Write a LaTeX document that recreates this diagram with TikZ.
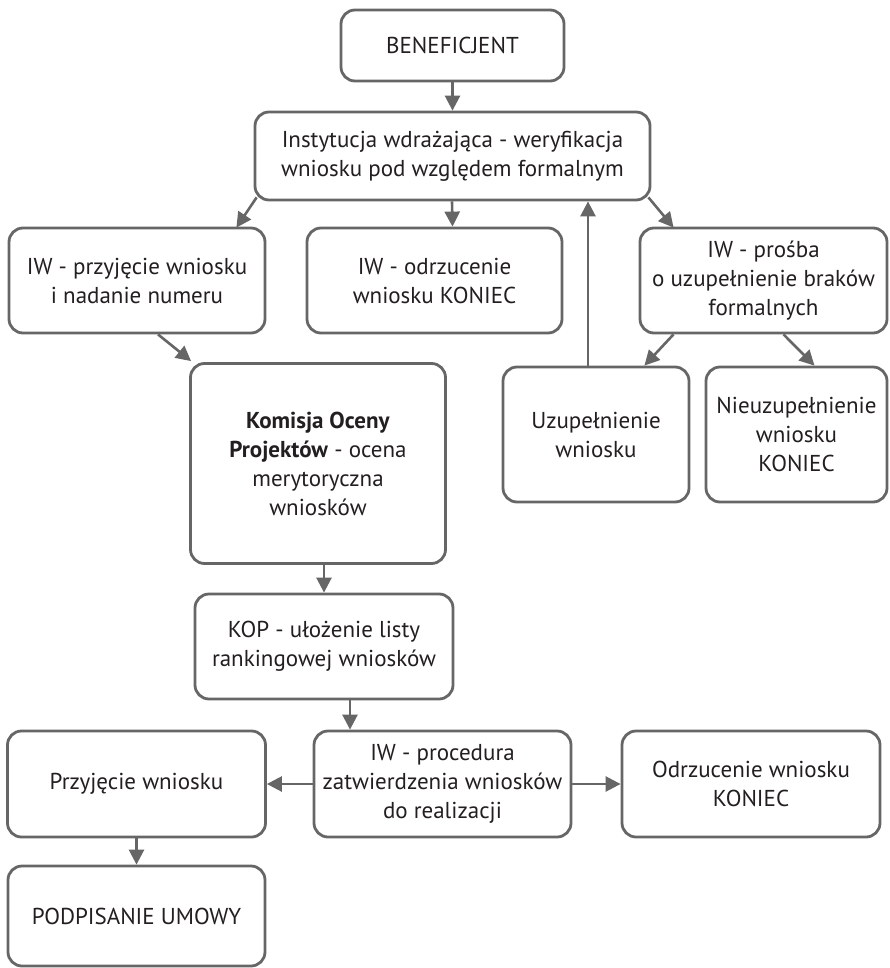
\documentclass[tikz,border=0pt]{standalone}
\usepackage{fontspec}
\setmainfont{PT Sans}
\usetikzlibrary{arrows.meta,calc}
\definecolor{ln}{HTML}{666666}
\definecolor{tx}{HTML}{231F20}
\tikzset{
  box/.style={draw=ln, line width=2.8pt, rounded corners=14pt, fill=white, inner sep=0pt,
    align=center, text=tx, font=\fontsize{23}{29}\selectfont},
  conn/.style={draw=ln, line width=2.6pt, -{Triangle[length=15pt,width=15pt]}},
}
\begin{document}
\begin{tikzpicture}[x=1pt,y=-1pt]
\useasboundingbox (0,0) rectangle (889,968);
\node[box, minimum width=223pt, minimum height=71pt] (ben) at (452.5,45.5) {BENEFICJENT};
\node[box, minimum width=395pt, minimum height=88pt] (inst) at (452.5,156) {Instytucja wdrażająca - weryfikacja\\wniosku pod względem formalnym};
\node[box, minimum width=256pt, minimum height=105pt] (przy) at (137,280.5) {IW - przyjęcie wniosku\\i nadanie numeru};
\node[box, minimum width=255pt, minimum height=105pt] (odrz) at (434.5,280.5) {IW - odrzucenie\\wniosku KONIEC};
\node[box, minimum width=247pt, minimum height=105pt] (pros) at (763.5,280.5) {IW - prośba\\o uzupełnienie braków\\formalnych};
\node[box, minimum width=186pt, minimum height=135pt] (uzup) at (596,434.5) {Uzupełnienie\\wniosku};
\node[box, minimum width=181pt, minimum height=135pt] (nieuz) at (796.5,434.5) {Nieuzupełnienie\\wniosku\\KONIEC};
\node[box, minimum width=255pt, minimum height=200pt] (kom) at (318,463.5) {\textbf{Komisja Oceny}\\\textbf{Projektów} - ocena\\merytoryczna\\wniosków};
\node[box, minimum width=258pt, minimum height=105pt] (kop) at (324,646.5) {KOP - ułożenie listy\\rankingowej wniosków};
\node[box, minimum width=257pt, minimum height=106pt] (proc) at (442.5,784) {IW - procedura\\zatwierdzenia wniosków\\do realizacji};
\node[box, minimum width=258pt, minimum height=106pt] (odrz2) at (751,784) {Odrzucenie wniosku\\KONIEC};
\node[box, minimum width=258pt, minimum height=106pt] (przyj2) at (136.5,784) {Przyjęcie wniosku};
\node[box, minimum width=257pt, minimum height=100pt] (podp) at (136.5,916) {PODPISANIE UMOWY};

\draw[conn] (ben.south) -- (inst.north);
\draw[conn] ([xshift=3pt,yshift=4pt]inst.south west) -- ([xshift=-30pt,yshift=-1pt]przy.north east);
\draw[conn] ([xshift=-0.5pt]inst.south) -- (odrz.north -| inst.south);
\draw[conn] ([xshift=-8pt]uzup.north) -- ([xshift=-8pt]uzup.north |- inst.south);
\draw[conn] ([xshift=-3pt,yshift=4pt]inst.south east) -- ([xshift=35pt,yshift=-1pt]pros.north west);
\draw[conn] ([xshift=21pt]przy.south) -- ([xshift=2pt,yshift=1pt]kom.north west);
\draw[conn] ([xshift=-90pt]pros.south) -- ([xshift=-46pt]uzup.north east);
\draw[conn] ([xshift=20pt]pros.south) -- ([xshift=18pt]nieuz.north);
\draw[conn] ([xshift=6pt]kom.south) -- ([xshift=6pt]kom.south |- kop.north);
\draw[conn] ([xshift=26pt]kop.south) -- ([xshift=26pt]kop.south |- proc.north);
\draw[conn] (proc.west) -- (przyj2.east);
\draw[conn] (proc.east) -- (odrz2.west);
\draw[conn] (przyj2.south) -- (podp.north);
\end{tikzpicture}
\end{document}
